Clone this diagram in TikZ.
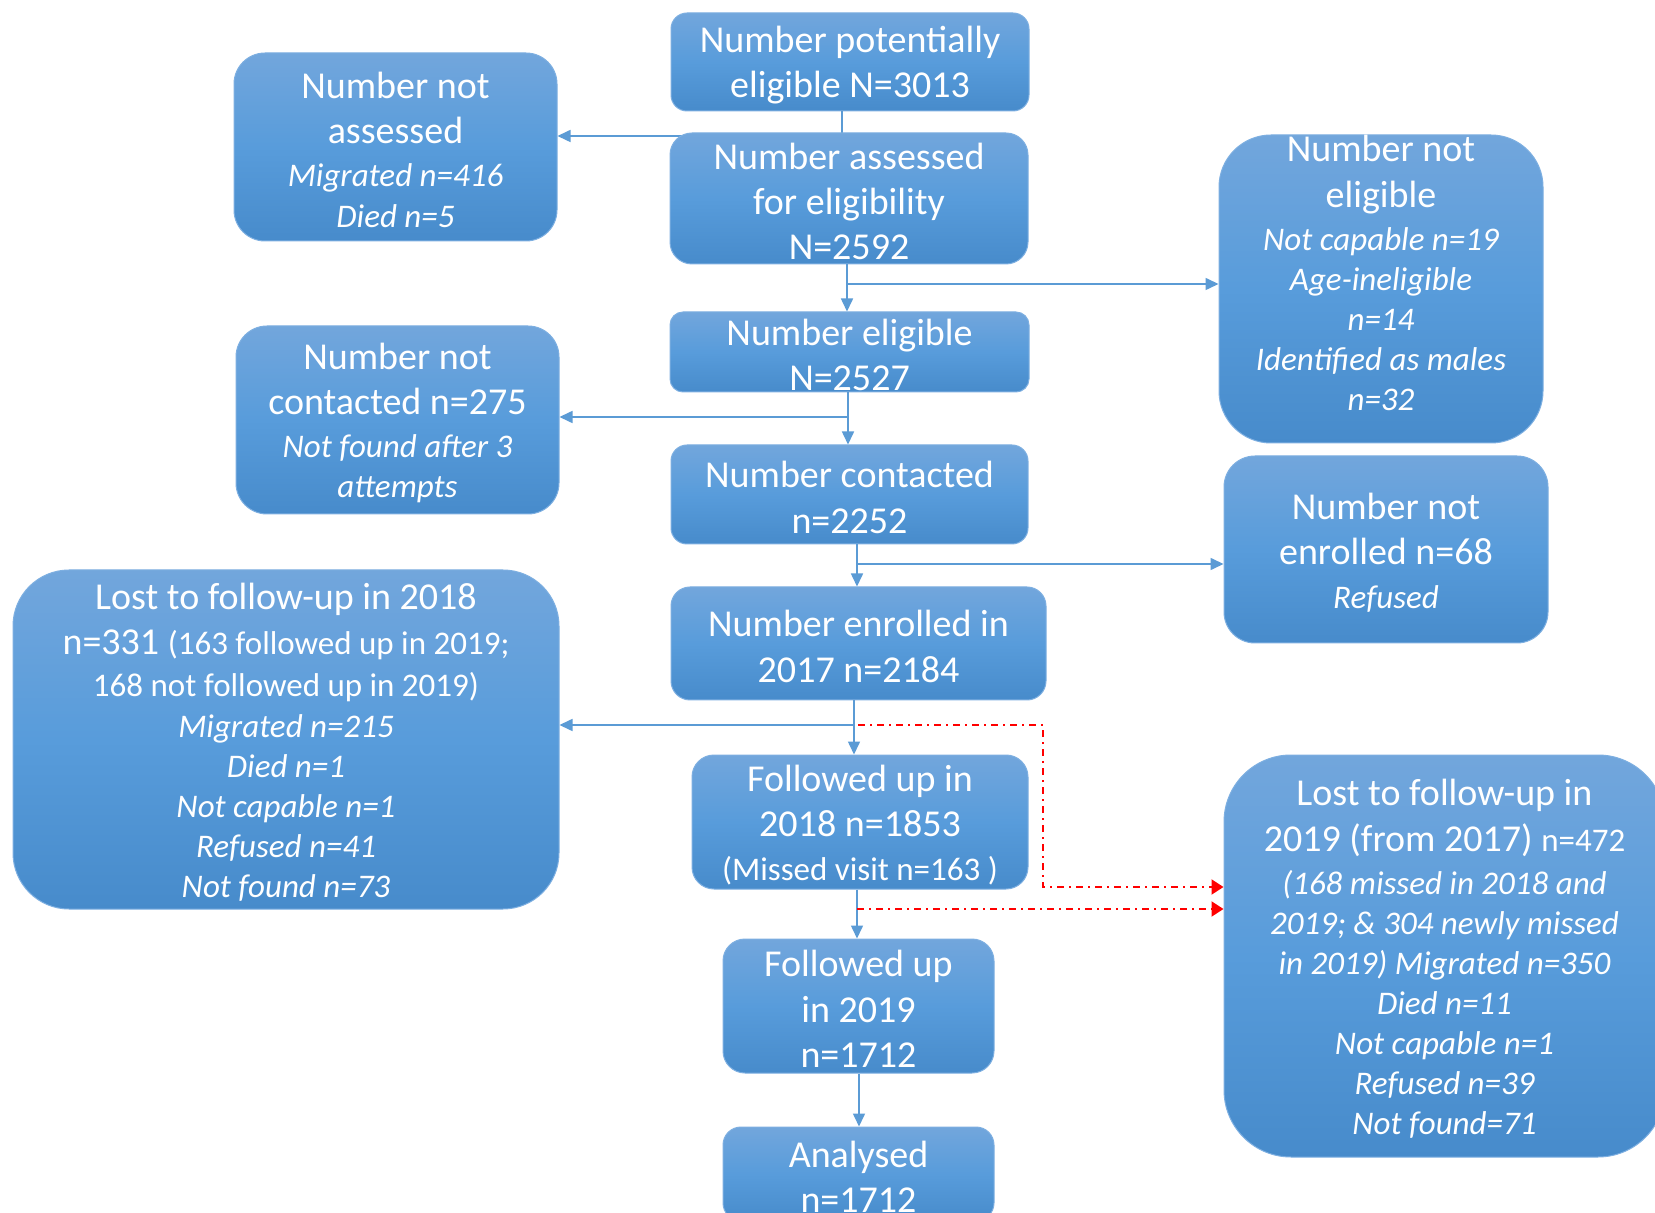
\documentclass[tikz,border=0pt]{standalone}
\usepackage{fontspec}
\setmainfont{Carlito}
\usetikzlibrary{arrows.meta}
\definecolor{boxtop}{RGB}{114,166,220}
\definecolor{boxmid}{RGB}{88,156,219}
\definecolor{boxbot}{RGB}{71,139,203}
\definecolor{boxedge}{RGB}{125,175,225}
\definecolor{lineblue}{RGB}{91,155,213}
\newcommand{\smup}{\fontsize{16.5}{20}\selectfont}
\newcommand{\smit}{\fontsize{16.5}{20}\selectfont\itshape}
\tikzset{
  box/.style={draw=boxedge, line width=0.5pt, top color=boxtop, bottom color=boxbot, middle color=boxmid, rounded corners=#1, inner sep=0pt},
  txt/.style={text=white, align=center, inner sep=0pt, font=\fontsize{19}{20}\selectfont, yshift=-1.5pt},
  conn/.style={draw=lineblue, line width=0.8pt, -{Triangle[width=6pt,length=6.5pt]}},
  redc/.style={draw=red, line width=1pt, dash pattern=on 3.5pt off 2.5pt on 1pt off 2.5pt, -{Triangle[width=7.5pt,length=6pt]}},
}
\begin{document}
\begin{tikzpicture}[x=0.5pt,y=-0.5pt]
\clip (0,0) rectangle (1655,1213);
\fill[white] (0,0) rectangle (1655,1213);

% A and B
\node[box=8pt, minimum width=179pt, minimum height=49pt] (A) at (850,62) {};
\node[txt] (At) at (A) {Number potentially\\[2.7pt]eligible N=3013};
\node[box=15.5pt, minimum width=161.5pt, minimum height=94pt] (B) at (395.5,147) {};
\node[txt] (Bt) at (B) {Number not\\[2.7pt]assessed\\[1.6pt]{\smit Migrated n=416}\\[0.5pt]{\smit Died n=5}};
\coordinate (jAB) at (842,136);
\draw[conn] (A.south -| jAB) |- (B.east |- jAB);

% C, D, E
\node[box=11pt, minimum width=179pt, minimum height=65.5pt] (C) at (849,198.5) {};
\node[txt] (Ct) at (C) {Number assessed\\[2.7pt]for eligibility\\[2.7pt]N=2592};
\node[box=26pt, minimum width=162pt, minimum height=154pt] (D) at (1381,289) {};
\node[txt] (Dt) at ([yshift=9.5pt]D.center) {Number not\\[2.7pt]eligible\\[1.6pt]{\smit Not capable n=19}\\{\smit Age-ineligible}\\{\smit n=14}\\{\smit Identified as males}\\{\smit n=32}};
\node[box=6.5pt, minimum width=179.5pt, minimum height=40pt] (E) at (849.5,352) {};
\node[txt] (Et) at (E) {Number eligible\\[2.7pt]N=2527};
\coordinate (jCD) at (847,284);
\draw[conn] (C.south -| jCD) -- (E.north -| jCD);
\draw[conn] (jCD) -- (jCD -| D.west);

% F, G
\node[box=15.5pt, minimum width=161.5pt, minimum height=94pt] (F) at (397.5,420) {};
\node[txt] (Ft) at (F) {Number not\\[2.7pt]contacted n=275\\[1.6pt]{\smit Not found after 3}\\{\smit attempts}};
\node[box=8pt, minimum width=178.5pt, minimum height=49.5pt] (G) at (849.5,494.5) {};
\node[txt] (Gt) at (G) {Number contacted\\[2.7pt]n=2252};
\coordinate (jEF) at (848,417);
\draw[conn] (E.south -| jEF) -- (G.north -| jEF);
\draw[conn] (jEF) -- (jEF -| F.east);

% H, J
\node[box=15.5pt, minimum width=162pt, minimum height=93.5pt] (H) at (1386,549.5) {};
\node[txt] (Ht) at (H) {Number not\\[2.7pt]enrolled n=68\\[1.6pt]{\smit Refused}};
\node[box=9.5pt, minimum width=187.5pt, minimum height=56.5pt] (J) at (858.5,643.5) {};
\node[txt] (Jt) at (J) {Number enrolled in\\[2.7pt]2017 n=2184};
\coordinate (jGH) at (857,564);
\draw[conn] (G.south -| jGH) -- (J.north -| jGH);
\draw[conn] (jGH) -- (jGH -| H.west);

% I, K, L
\node[box=28pt, minimum width=273pt, minimum height=169.5pt] (I) at (286,739.5) {};
\node[txt] (It) at (I) {Lost to follow-up in 2018\\[2.7pt]n=331 {\smup (163 followed up in 2019;}\\[1pt]{\smup 168 not followed up in 2019)}\\[0.5pt]{\smit Migrated n=215}\\{\smit Died n=1}\\{\smit Not capable n=1}\\{\smit Refused n=41}\\{\smit Not found n=73}};
\node[box=11pt, minimum width=168pt, minimum height=67pt] (K) at (860,822) {};
\node[txt] (Kt) at (K) {Followed up in\\[2.7pt]2018 n=1853\\[2pt]{\smup (Missed visit n=163 )}};
\node[box=33.5pt, minimum width=220.5pt, minimum height=201pt] (L) at (1444.5,956) {};
\node[txt] (Lt) at (L) {Lost to follow-up in\\[2.7pt]2019 (from 2017) {\smup n=472}\\[1.6pt]{\smit (168 missed in 2018 and}\\{\smit 2019; \& 304 newly missed}\\{\smit in 2019) Migrated n=350}\\{\smit Died n=11}\\{\smit Not capable n=1}\\{\smit Refused n=39}\\{\smit Not found=71}};
\coordinate (jJI) at (854,725);
\draw[conn] (J.south -| jJI) -- (K.north -| jJI);
\draw[conn] (jJI) -- (jJI -| I.east);
\coordinate (r1) at (858,725);
\coordinate (r2) at (1043,887);
\draw[redc] (r1) -| (r2) -- (r2 -| L.west);

% M, N
\node[box=11pt, minimum width=135.5pt, minimum height=67pt] (M) at (858.5,1006) {};
\node[txt] (Mt) at (M) {Followed up\\[2.7pt]in 2019\\[2.7pt]n=1712};
\node[box=9pt, minimum width=135.5pt, minimum height=47pt] (N) at (858.5,1174) {};
\node[txt] (Nt) at (N) {Analysed\\[2.7pt]n=1712};
\coordinate (jKL) at (857,909);
\draw[conn] (K.south -| jKL) -- (M.north -| jKL);
\draw[redc] (jKL) -- (jKL -| L.west);
\coordinate (jMN) at (859,1100);
\draw[conn] (M.south -| jMN) -- (N.north -| jMN);
\end{tikzpicture}
\end{document}
